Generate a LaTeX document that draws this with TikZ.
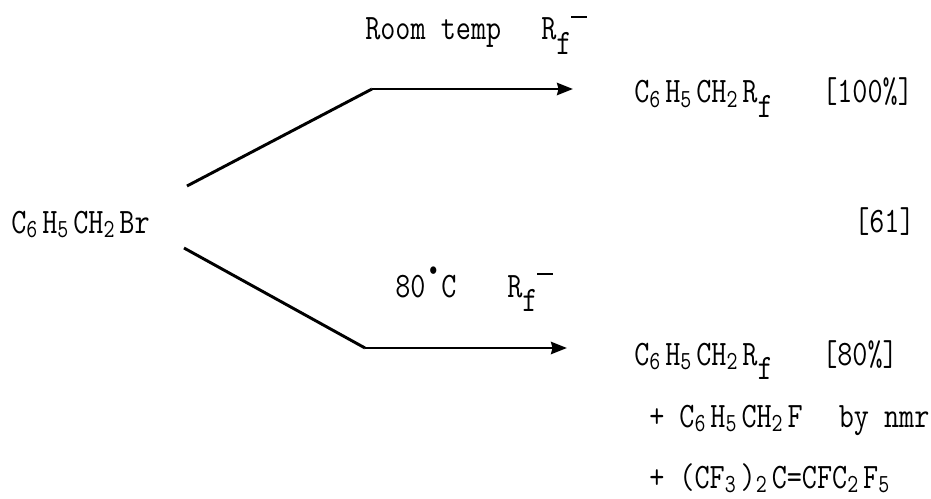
\documentclass[tikz,border=0pt]{standalone}
\usepackage{amsmath,amssymb}
\usepackage{graphicx}
\usepackage{xcolor}
\usetikzlibrary{calc,arrows.meta,positioning}
\tikzset{
  ar/.style={-{Stealth[length=4.2mm,width=3.2mm,inset=0.4mm]},line width=2.2pt,black},
  stem/.style={line width=2.2pt,black},
  chem/.style={font=\ttfamily\fontsize{22}{24}\selectfont,anchor=base west,inner sep=0pt}
}
\newcommand{\tall}[1]{\scalebox{1}[1.22]{#1}}
\newcommand{\sub}[1]{\raisebox{-3pt}{\fontsize{16}{18}\selectfont #1}\hspace{3.7pt}}
\newcommand{\rff}{R\raisebox{-9pt}{f}}
\newcommand{\rfion}{\rff\raisebox{13.5pt}{\rule{12pt}{1.3pt}}}
\begin{document}
\begin{tikzpicture}[x=0.75pt,y=-0.75pt]
\useasboundingbox (0,0) rectangle (931,499);
\node[chem] (start) at (11,233) {\tall{C\sub{6}H\sub{5}CH\sub{2}Br}};
\coordinate (topfrom) at (187,186);
\coordinate (topbend) at (372,89);
\coordinate (topend) at (573,89);
\coordinate (lowfrom) at (184,248);
\coordinate (lowbend) at (365,348);
\coordinate (lowend) at (567,348);
\draw[stem] (topfrom) -- (topbend);
\draw[ar] (topbend) -- (topend);
\draw[stem] (lowfrom) -- (lowbend);
\draw[ar] (lowbend) -- (lowend);
\node[chem] (hot) at (365,40) {\tall{Room temp}};
\node[chem] (rftop) at (541,40) {\tall{\rfion}};
\node[chem] (cold) at (395,297) {\tall{80\makebox[12pt]{\raisebox{13pt}{\fontsize{12}{12}\selectfont$\bullet$}}C}};
\node[chem] (rflow) at (507,297) {\tall{\rfion}};
\node[chem] (prodtop) at (634,103) {\tall{C\sub{6}H\sub{5}CH\sub{2}\rff}};
\node[chem] (yieldtop) at (822,103) {\tall{[100\%]}};
\node[chem] (ref) at (854,232) {\tall{[61]}};
\node[chem] (prodlow) at (634,365) {\tall{C\sub{6}H\sub{5}CH\sub{2}\rff}};
\node[chem] (yieldlow) at (822,365) {\tall{[80\%]}};
\node[chem] (benzyl) at (649,427) {\tall{+ C\sub{6}H\sub{5}CH\sub{2}F\hspace{27pt}by nmr}};
\node[chem] (olefin) at (649,488) {\tall{+ (CF\sub{3})\sub{2}C=CFC\sub{2}F\sub{5}}};
\end{tikzpicture}
\end{document}
